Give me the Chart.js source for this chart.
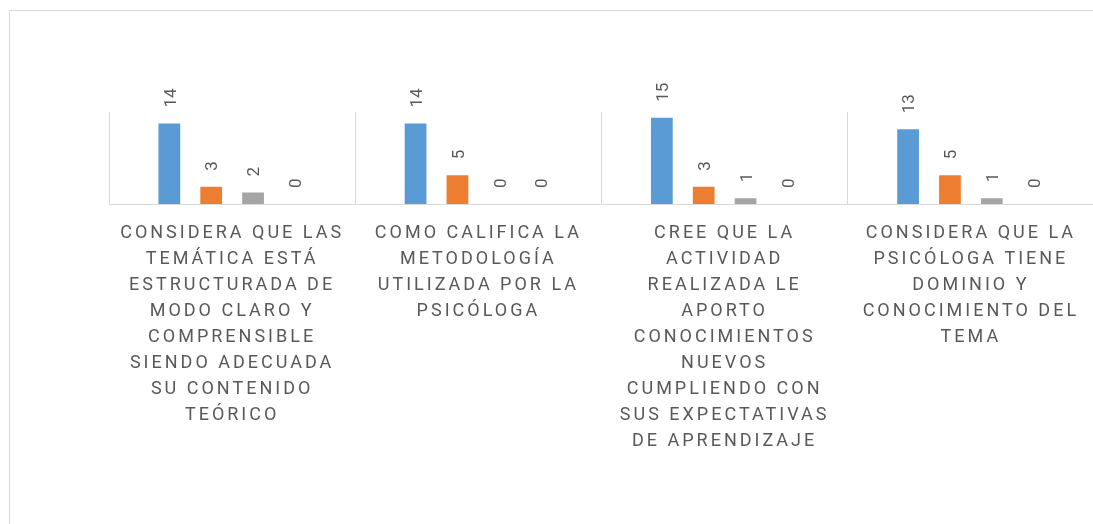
<!DOCTYPE html>
<html>
<head>
<meta charset="utf-8">
<script src="https://cdn.jsdelivr.net/npm/chart.js@4.4.1/dist/chart.umd.min.js"></script>
<style>
  html, body { margin: 0; padding: 0; background: #fff; overflow: hidden; }
  #wrap { position: relative; width: 1095px; height: 524px; }
  #frame { position: absolute; left: 9px; top: 10px; width: 1200px; height: 600px;
           border-top: 1px solid #d9d9d9; border-left: 1px solid #d9d9d9; pointer-events: none; }
</style>
</head>
<body>
<div id="wrap">
  <canvas id="chart" width="1095" height="524"></canvas>
  <div id="frame"></div>
</div>
<script>
// Category labels, wrapped the same way as the original chart
const categories = [
    ['CONSIDERA QUE LAS', 'TEMÁTICA ESTÁ', 'ESTRUCTURADA DE', 'MODO CLARO Y', 'COMPRENSIBLE', 'SIENDO ADECUADA', 'SU CONTENIDO', 'TEÓRICO'],
    ['COMO CALIFICA LA', 'METODOLOGÍA', 'UTILIZADA POR LA', 'PSICÓLOGA'],
    ['CREE QUE LA', 'ACTIVIDAD', 'REALIZADA LE', 'APORTO', 'CONOCIMIENTOS', 'NUEVOS', 'CUMPLIENDO CON', 'SUS EXPECTATIVAS', 'DE APRENDIZAJE'],
    ['CONSIDERA QUE LA', 'PSICÓLOGA TIENE', 'DOMINIO Y', 'CONOCIMIENTO DEL', 'TEMA']
];

// Series values
const serie1 = [14, 14, 15, 13];
const serie2 = [3, 5, 3, 5];
const serie3 = [2, 0, 1, 1];
const serie4 = [0, 0, 0, 0];

const seriesNames = ['Serie 1', 'Serie 2', 'Serie 3', 'Serie 4'];
const seriesColors = ['#5b9bd5', '#ed7d31', '#a5a5a5', '#ffc000'];

const textColor = '#595959';

// Spaced-out lettering for the axis labels
const letterSpacingPlugin = {
    id: 'letterSpacing',
    beforeDraw(chart) {
        chart.ctx.letterSpacing = '3px';
    }
};

// Rotated value labels above each bar
const valueLabels = {
    id: 'valueLabels',
    afterDatasetsDraw(chart) {
        const ctx = chart.ctx;
        ctx.save();
        ctx.letterSpacing = '0px';
        ctx.font = '17px Roboto';
        ctx.fillStyle = textColor;
        ctx.textAlign = 'left';
        ctx.textBaseline = 'middle';
        chart.data.datasets.forEach(function(ds, i) {
            chart.getDatasetMeta(i).data.forEach(function(bar, j) {
                ctx.save();
                ctx.translate(bar.x + 2, bar.y - 16);
                ctx.rotate(-Math.PI / 2);
                ctx.fillText(String(ds.data[j]), 0, 0);
                ctx.restore();
            });
        });
        ctx.restore();
    }
};

const datasets = [serie1, serie2, serie3, serie4].map(function(values, i) {
    return {
        label: seriesNames[i],
        data: values,
        backgroundColor: seriesColors[i],
        borderWidth: 0,
        categoryPercentage: 0.68,
        barPercentage: 0.52
    };
});

new Chart(document.getElementById('chart').getContext('2d'), {
    type: 'bar',
    data: { labels: categories, datasets: datasets },
    plugins: [letterSpacingPlugin, valueLabels],
    options: {
        responsive: false,
        animation: false,
        layout: { padding: { top: 112, left: 109, right: 1, bottom: 0 } },
        plugins: {
            legend: { display: false },
            tooltip: { enabled: false }
        },
        scales: {
            x: {
                grid: { color: '#d9d9d9', lineWidth: 1, drawTicks: false, offset: true },
                border: { color: '#d9d9d9', width: 1 },
                ticks: {
                    color: textColor,
                    font: { family: 'Roboto', size: 18, lineHeight: 26 / 18 },
                    padding: 16,
                    maxRotation: 0,
                    minRotation: 0,
                    autoSkip: false
                },
                afterFit: function(scale) { scale.height = 320; }
            },
            y: {
                display: false,
                min: 0,
                max: 16
            }
        }
    }
});
</script>
</body>
</html>
